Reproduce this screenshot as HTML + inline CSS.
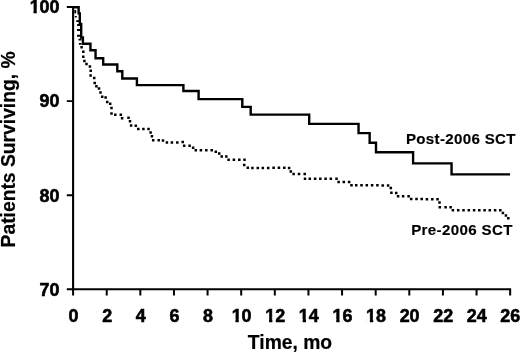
<!DOCTYPE html>
<html><head><meta charset="utf-8">
<style>
html,body{margin:0;padding:0;background:#fff;}
body{width:520px;height:353px;overflow:hidden;}
svg{display:block;}
text{font-family:"Liberation Sans",Arial,sans-serif;font-weight:bold;fill:#000;stroke:#000;stroke-width:0.6px;}
</style></head>
<body>
<svg width="520" height="353" viewBox="0 0 520 353">
<g stroke="#000" fill="none">
<path stroke-width="2.1" stroke-linecap="butt" stroke-linejoin="miter" d="M73.1,6 V289.25 H511.1"/>
<path stroke-width="1.9" d="M66.8,7 H73 M66.8,101.1 H73 M66.8,195.3 H73 M66.8,289.2 H73"/>
<path stroke-width="2" d="M73.1,289.2 V295.6 M106.72,289.2 V295.6 M140.34,289.2 V295.6 M173.96,289.2 V295.6 M207.58,289.2 V295.6 M241.20,289.2 V295.6 M274.82,289.2 V295.6 M308.44,289.2 V295.6 M342.06,289.2 V295.6 M375.68,289.2 V295.6 M409.30,289.2 V295.6 M442.92,289.2 V295.6 M476.54,289.2 V295.6 M510.16,289.2 V295.6"/>
</g>
<path fill="none" stroke="#000" stroke-width="2.4" stroke-linejoin="miter" d="M73,7.2 H78.65 V13.4 H79.8 V23.9 H81.2 V37.5 H82.9 V43.7 H90.45 V50.2 H95.55 V58.3 H103.2 V64.5 H117.3 V71.3 H122.3 V78.5 H136.9 V85.1 H183.4 V91.05 H198.6 V99.15 H242.3 V106.9 H250.7 V114.6 H309.2 V123.9 H358.55 V133.1 H369.65 V142.75 H376 V152.2 H413.1 V163.4 H451.55 V174.35 H510"/>
<g fill="none" stroke="#000"><path stroke-width="1.9" d="M75.25,10 V13.4"/><path stroke-width="1.7" d="M74.8,16.75 H76.8 M76.2,21.05 H79.5"/><path stroke-width="2" d="M77.1,25.1 H80 M77,29.9 H80.5 M77,35.65 H80.5"/><path stroke-width="1.7" d="M78.5,39.7 H81.5 M78.9,43.9 H81.5"/></g>
<path fill="none" stroke="#000" stroke-width="2.5" stroke-linecap="square" d="M81.6,47.2h.01 M83.3,51.8h.01 M83.3,56.8h.01 M84.4,61.0h.01 M86.5,64.0h.01 M89.9,66.6h.01 M90.7,70.7h.01 M90.6,75.6h.01 M94.2,78.0h.01 M94.7,82.9h.01 M96.4,86.2h.01 M99.0,88.6h.01 M100.5,92.5h.01 M102.2,96.7h.01 M105.6,97.5h.01 M107.2,102.1h.01 M110.2,103.8h.01 M111.5,108.0h.01 M111.5,113.4h.01 M115.3,114.8h.01 M120.8,114.8h.01 M122.1,118.2h.01 M128.5,117.8h.01 M130.0,121.2h.01 M131.1,125.5h.01 M135.8,125.8h.01 M138.3,128.9h.01 M143.4,128.9h.01 M148.5,128.9h.01 M150.6,132.6h.01 M151.9,136.2h.01 M153.2,140.2h.01 M158.7,140.2h.01 M163.0,140.6h.01 M166.9,142.5h.01 M171.9,142.5h.01 M177.3,142.5h.01 M182.7,142.1h.01 M184.2,145.7h.01 M189.6,145.7h.01 M193.1,147.7h.01 M195.8,150.2h.01 M200.9,150.3h.01 M206.3,150.3h.01 M211.7,150.3h.01 M215.8,151.8h.01 M219.2,153.5h.01 M221.7,156.5h.01 M226.3,156.6h.01 M228.6,159.8h.01 M233.9,159.8h.01 M239.3,159.7h.01 M244.5,159.7h.01 M244.2,165.1h.01 M247.8,167.8h.01 M252.4,167.9h.01 M257.8,167.9h.01 M262.8,167.9h.01 M268.2,167.9h.01 M273.6,167.8h.01 M278.9,167.8h.01 M284.3,167.7h.01 M289.1,168.0h.01 M290.8,171.6h.01 M293.6,173.9h.01 M299.0,173.9h.01 M304.7,173.9h.01 M305.0,178.7h.01 M309.8,178.7h.01 M315.1,178.7h.01 M320.3,178.8h.01 M325.6,178.8h.01 M330.8,178.8h.01 M336.5,178.8h.01 M338.6,181.9h.01 M343.8,181.9h.01 M349.1,181.9h.01 M351.5,185.2h.01 M356.2,185.2h.01 M361.5,185.2h.01 M366.8,185.2h.01 M372.1,185.3h.01 M377.4,185.3h.01 M382.7,185.4h.01 M388.1,185.4h.01 M390.8,188.1h.01 M391.4,192.7h.01 M396.2,192.9h.01 M398.1,196.3h.01 M403.1,196.3h.01 M408.6,196.2h.01 M411.2,199.1h.01 M416.5,199.1h.01 M421.7,199.1h.01 M426.9,199.2h.01 M432.3,199.2h.01 M437.5,199.2h.01 M439.5,202.6h.01 M439.8,207.2h.01 M445.6,207.2h.01 M450.6,207.2h.01 M452.9,210.3h.01 M458.2,210.3h.01 M463.5,210.3h.01 M468.8,210.3h.01 M474.1,210.2h.01 M479.3,210.2h.01 M484.6,210.2h.01 M489.8,210.2h.01 M495.1,210.2h.01 M500.3,210.2h.01 M502.9,213.0h.01 M505.9,215.4h.01 M508.3,218.2h.01"/>
<g font-size="17.9" text-anchor="end">
<text x="59.5" y="12.6">100</text>
<text x="59.5" y="107.3">90</text>
<text x="59.5" y="201.5">80</text>
<text x="59.5" y="295.5">70</text>
</g>
<g font-size="17.9" text-anchor="middle">
<text x="73.6" y="322">0</text>
<text x="107.2" y="322">2</text>
<text x="140.8" y="322">4</text>
<text x="174.4" y="322">6</text>
<text x="208" y="322">8</text>
<text x="241.6" y="322">10</text>
<text x="275.2" y="322">12</text>
<text x="308.8" y="322">14</text>
<text x="342.4" y="322">16</text>
<text x="376" y="322">18</text>
<text x="409.6" y="322">20</text>
<text x="443.2" y="322">22</text>
<text x="476.8" y="322">24</text>
<text x="510.2" y="322">26</text>
</g>
<g fill="#fff"><rect x="29.94" y="9.6" width="3.50" height="4.5"/><rect x="36.79" y="9.6" width="3.05" height="4.5"/><rect x="231.95" y="319" width="3.50" height="4.5"/><rect x="238.80" y="319" width="3.05" height="4.5"/><rect x="265.55" y="319" width="3.50" height="4.5"/><rect x="272.40" y="319" width="3.05" height="4.5"/><rect x="299.15" y="319" width="3.50" height="4.5"/><rect x="306.00" y="319" width="3.05" height="4.5"/><rect x="332.75" y="319" width="3.50" height="4.5"/><rect x="339.60" y="319" width="3.05" height="4.5"/><rect x="366.35" y="319" width="3.50" height="4.5"/><rect x="373.20" y="319" width="3.05" height="4.5"/></g>
<text x="290" y="349.3" font-size="19.3" text-anchor="middle" style="stroke-width:0.2px">Time, mo</text>
<text transform="translate(14.6,149.4) rotate(-90)" font-size="19.3" text-anchor="middle" style="stroke-width:0.2px">Patients Surviving, %</text>
<text x="405.9" y="144" font-size="15.1" letter-spacing="0.33" style="stroke-width:0.15px">Post-2006 SCT</text>
<text x="411.2" y="235.3" font-size="15.1" letter-spacing="0.35" style="stroke-width:0.15px">Pre-2006 SCT</text>
</svg>
</body></html>
